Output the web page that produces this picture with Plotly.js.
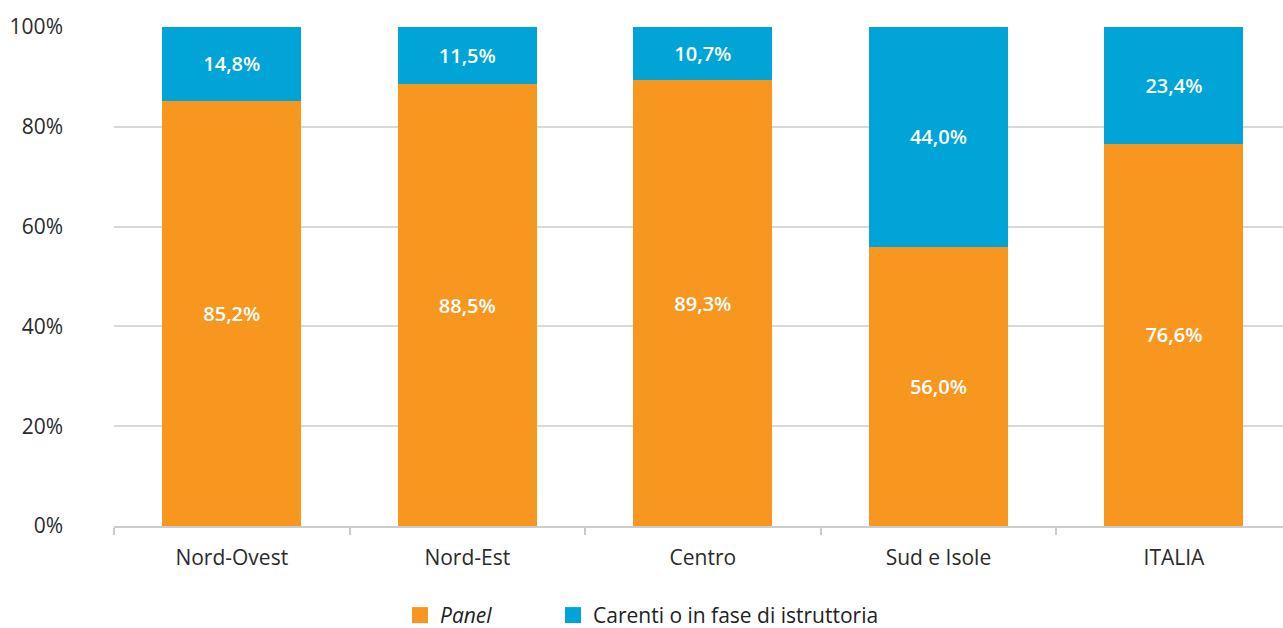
<!DOCTYPE html>
<html><head><meta charset="utf-8">
<script src="https://cdn.plot.ly/plotly-3.0.1.min.js"></script>
<style>body{margin:0;padding:0;background:#fff}#c{width:1283px;height:628px}</style>
</head><body><div id="c"></div>
<script>
const categories = ["Nord-Ovest", "Nord-Est", "Centro", "Sud e Isole", "ITALIA"];
const panelValues = [85.2, 88.5, 89.3, 56.0, 76.6];
const carentiValues = [14.8, 11.5, 10.7, 44.0, 23.4];
const yTickVals = [0, 20, 40, 60, 80, 100];
const yTickText = ["0%", "20%", "40%", "60%", "80%", "100%"];
const seriesNames = ["<i>Panel</i>", "Carenti o in fase di istruttoria"];
const seriesColors = ["#F7971F", "#00A4D6"];
const fmt = v => v.toFixed(1).replace(".", ",") + "%";

const font = "'Open Sans', sans-serif";
const traces = [
  {type: "bar", name: seriesNames[0], x: categories, y: panelValues, showlegend: false,
   text: panelValues.map(fmt), textposition: "inside", insidetextanchor: "middle",
   textfont: {color: "#ffffff", size: 20, family: font, weight: 600}, marker: {color: seriesColors[0]},
   width: 0.59, hoverinfo: "none"},
  {type: "bar", name: seriesNames[1], x: categories, y: carentiValues, showlegend: false,
   text: carentiValues.map(fmt), textposition: "inside", insidetextanchor: "middle",
   textfont: {color: "#ffffff", size: 20, family: font, weight: 600}, marker: {color: seriesColors[1]},
   width: 0.59, hoverinfo: "none"},
  {type: "scatter", mode: "markers", name: seriesNames[0], x: [null], y: [null], legend: "legend",
   marker: {symbol: "square", size: 17, color: seriesColors[0]}, hoverinfo: "none"},
  {type: "scatter", mode: "markers", name: seriesNames[1], x: [null], y: [null], legend: "legend2",
   marker: {symbol: "square", size: 17, color: seriesColors[1]}, hoverinfo: "none"}
];
const legendBase = {orientation: "h", xref: "container", xanchor: "left",
  yref: "container", y: 0.02, yanchor: "middle",
  font: {size: 21, color: "#222222"}, itemsizing: "trace", bgcolor: "rgba(0,0,0,0)"};
const layout = {
  width: 1283, height: 628, barmode: "stack",
  margin: {l: 114, r: 0, t: 27, b: 102},
  paper_bgcolor: "#fff", plot_bgcolor: "#fff",
  font: {family: font, size: 21, color: "#333333"},
  uniformtext: {mode: "show", minsize: 20},
  xaxis: {type: "category", range: [-0.5, 4.463], showgrid: false,
    showline: true, linecolor: "#cccccc", linewidth: 2,
    ticks: "outside", tickson: "boundaries", ticklen: 7, tickcolor: "#cccccc", tickwidth: 2,
    ticklabelstandoff: 12,
    tickfont: {size: 21, color: "#2b2b2b"}, fixedrange: true},
  yaxis: {range: [0, 100], tickvals: yTickVals, ticktext: yTickText,
    showgrid: true, gridcolor: "#d9d9d9", gridwidth: 2, zeroline: false,
    showline: false, ticks: "", ticklabelstandoff: 50,
    tickfont: {size: 21, color: "#2b2b2b"}, fixedrange: true},
  legend: Object.assign({}, legendBase, {x: 400 / 1283}),
  legend2: Object.assign({}, legendBase, {x: 553 / 1283}),
  showlegend: true
};
Plotly.newPlot("c", traces, layout, {displayModeBar: false, staticPlot: true});
</script></body></html>
